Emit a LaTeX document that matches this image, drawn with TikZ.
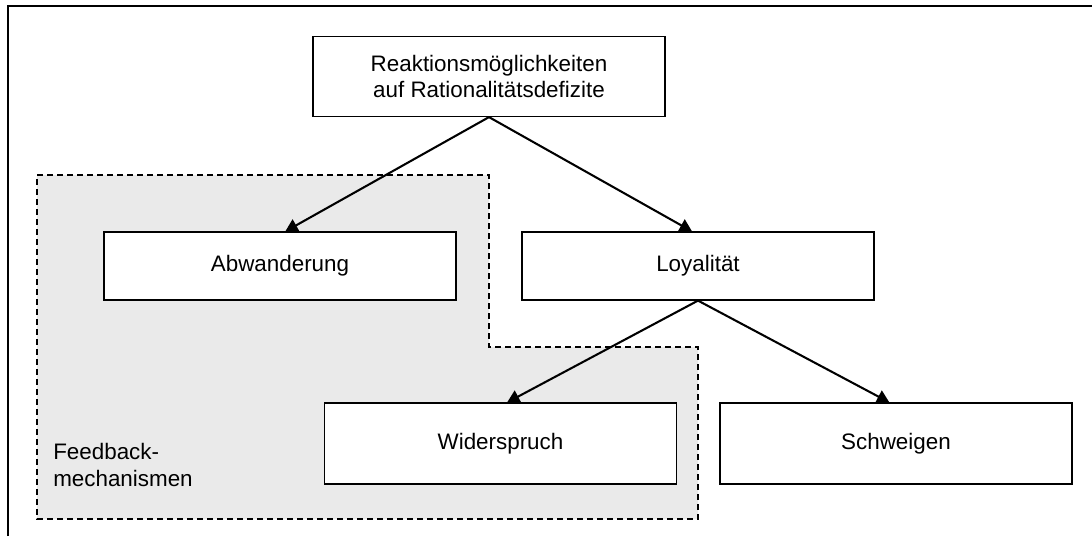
\documentclass[tikz,border=0pt]{standalone}
\usepackage{fontspec}
\setmainfont{Liberation Sans}
\usetikzlibrary{positioning,arrows}
\definecolor{fbgrey}{RGB}{234,234,234}

\begin{document}
\begin{tikzpicture}[x=0.75pt,y=-0.75pt,
  box/.style={rectangle,draw,fill=white,line width=0.9pt,minimum width=264pt,inner sep=0pt,align=center,font=\fontsize{16.8}{20}\selectfont},
  link/.style={-triangle 60,line width=1.55pt}]
\useasboundingbox (0,0) rectangle (1092,536);
\draw [line width=2pt] (8,536) -- (8,6) -- (1092,6);
\draw [fill=fbgrey,line width=1.5pt,dash pattern=on 4.5pt off 3pt] (37,175) -- (489,175) -- (489,347) -- (698,347) -- (698,519) -- (37,519) -- cycle;
\node at (489,76.5) [box,minimum height=60pt] (rk) {Reaktionsmöglichkeiten\\auf Rationalitätsdefizite};
\node at (280,266) [box,minimum height=51pt] (ab) {Abwanderung};
\node at (698,266) [box,minimum height=51pt] (lo) {Loyalität};
\node at (500.5,443.5) [box,minimum height=60.75pt] (wi) {Widerspruch};
\node at (896,443.5) [box,minimum height=60.75pt] (sw) {Schweigen};
\node at (53,465) [anchor=west,align=left,inner sep=0pt,font=\fontsize{16.8}{20}\selectfont] (fb) {Feedback-\\mechanismen};
\draw [link] (rk.south) -- ([xshift=4pt]ab.north);
\draw [link] (rk.south) -- ([xshift=-4.5pt]lo.north);
\draw [link] (lo.south) -- ([xshift=5pt]wi.north);
\draw [link] (lo.south) -- ([xshift=-5pt]sw.north);
\end{tikzpicture}
\end{document}
